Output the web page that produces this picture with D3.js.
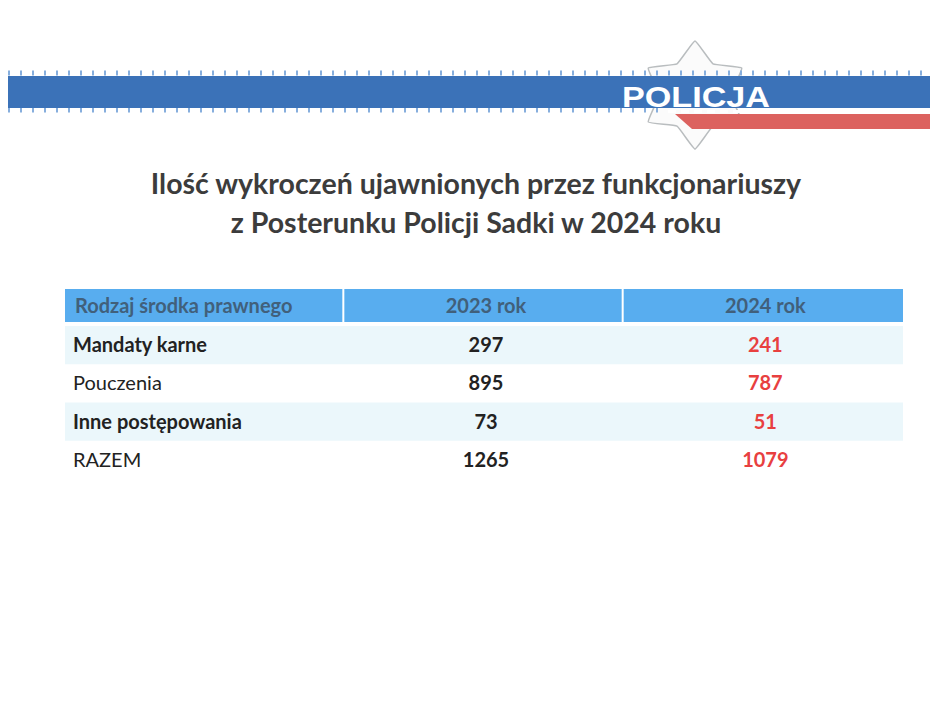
<!DOCTYPE html>
<html>
<head>
<meta charset="utf-8">
<script src="https://cdn.jsdelivr.net/npm/d3@7"></script>
<style>
    body { margin: 0; background: #fff; }
    svg { display: block; }
</style>
</head>
<body>
<svg id="slide" width="930" height="708"></svg>
<script>
//-------------------Données----------------------------------------

var titre = ["Ilość wykroczeń ujawnionych przez funkcjonariuszy", "z Posterunku Policji Sadki w 2024 roku"];
var entetes = ["Rodzaj środka prawnego", "2023 rok", "2024 rok"];
var categories = ["Mandaty karne", "Pouczenia", "Inne postępowania", "RAZEM"];
var valeurs2023 = [297, 895, 73, 1265];
var valeurs2024 = [241, 787, 51, 1079];

var svg = d3.select("#slide");
var police = "Lato, 'Open Sans', sans-serif";

//-------------------Bandeau POLICJA----------------------------------------

function etoile(cx, cy, rExt, rInt) {
    var points = [];
    for (var i = 0; i < 12; i++) {
        var angle = i * Math.PI / 6;
        var r = (i % 2 == 0) ? rExt : rInt;
        points.push([cx + Math.sin(angle) * r, cy - Math.cos(angle) * r]);
    }
    return points;
}

svg.append("path")
    .attr("d", d3.line().curve(d3.curveCardinalClosed.tension(0.7))(etoile(695, 95, 54, 36)))
    .attr("fill", "#fbfbfb")
    .attr("stroke", "#b9bdbf")
    .attr("stroke-width", 1.5);

// pointillés au-dessus et en dessous du bandeau
svg.append("line")
    .attr("x1", 8).attr("x2", 930).attr("y1", 73).attr("y2", 73)
    .attr("stroke", "#86aedd").attr("stroke-width", 5)
    .attr("stroke-dasharray", "2,10");
svg.append("line")
    .attr("x1", 8).attr("x2", 660).attr("y1", 110).attr("y2", 110)
    .attr("stroke", "#86aedd").attr("stroke-width", 5)
    .attr("stroke-dasharray", "2,10");

svg.append("rect")
    .attr("x", 8).attr("y", 76)
    .attr("width", 922).attr("height", 32)
    .attr("fill", "#3b72b8");

svg.append("path")
    .attr("d", "M675,114 L930,114 L930,129 L692,129 Z")
    .attr("fill", "#dc625f");

svg.append("line")
    .attr("x1", 668).attr("x2", 930).attr("y1", 111.5).attr("y2", 111.5)
    .attr("stroke", "#ffffff").attr("stroke-width", 3)
    .attr("stroke-dasharray", "8,5");

svg.append("text")
    .attr("x", 622).attr("y", 107)
    .attr("textLength", 148)
    .attr("lengthAdjust", "spacingAndGlyphs")
    .style("font-family", "'Liberation Sans', Arial, sans-serif")
    .style("font-weight", "bold")
    .style("font-size", "30px")
    .attr("fill", "#ffffff")
    .text("POLICJA");

//-------------------Titre----------------------------------------

svg.selectAll(".titre")
    .data(titre)
    .enter()
    .append("text")
    .attr("class", "titre")
    .attr("x", 476)
    .attr("y", function(d, i) { return 194 + i * 39; })
    .attr("text-anchor", "middle")
    .style("font-family", police)
    .style("font-weight", "bold")
    .style("font-size", "28.5px")
    .attr("fill", "#3c3c3c")
    .text(function(d) { return d; });

//-------------------Tableau----------------------------------------

var x = d3.scaleBand().domain(entetes).range([65, 903]);
var y = d3.scaleBand().domain(categories).range([326, 479]);

// lignes légèrement teintées
svg.selectAll(".fond")
    .data(categories.filter(function(d, i) { return i % 2 == 0; }))
    .enter()
    .append("rect")
    .attr("class", "fond")
    .attr("x", 65)
    .attr("y", function(d) { return y(d); })
    .attr("width", 838)
    .attr("height", y.bandwidth())
    .attr("fill", "#ebf7fb");

svg.selectAll(".entete")
    .data(entetes)
    .enter()
    .append("rect")
    .attr("class", "entete")
    .attr("x", function(d) { return x(d); })
    .attr("y", 289)
    .attr("width", function(d, i) { return x.bandwidth() - (i < 2 ? 2 : 0); })
    .attr("height", 33)
    .attr("fill", "#58adef");

svg.selectAll(".txtEntete")
    .data(entetes)
    .enter()
    .append("text")
    .attr("class", "txtEntete")
    .attr("x", function(d, i) { return i == 0 ? x(d) + 10 : x(d) + x.bandwidth() / 2 + 2; })
    .attr("y", 313)
    .attr("text-anchor", function(d, i) { return i == 0 ? "start" : "middle"; })
    .style("font-family", police)
    .style("font-weight", "bold")
    .style("font-size", "20px")
    .attr("fill", "#41607b")
    .text(function(d) { return d; });

function ajouterColonne(valeurs, colonne, couleur, classe) {
    svg.selectAll("." + classe)
        .data(valeurs)
        .enter()
        .append("text")
        .attr("class", classe)
        .attr("x", x(colonne) + x.bandwidth() / 2 + 2)
        .attr("y", function(d, i) { return y(categories[i]) + y.bandwidth() / 2 + 7; })
        .attr("text-anchor", "middle")
        .style("font-family", police)
        .style("font-weight", "bold")
        .style("font-size", "20px")
        .attr("fill", couleur)
        .text(function(d) { return d; });
}

svg.selectAll(".categorie")
    .data(categories)
    .enter()
    .append("text")
    .attr("class", "categorie")
    .attr("x", 73)
    .attr("y", function(d) { return y(d) + y.bandwidth() / 2 + 7; })
    .style("font-family", police)
    .style("font-weight", function(d, i) { return i == 0 || i == 2 ? "bold" : "normal"; })
    .style("font-size", "20px")
    .attr("fill", "#222222")
    .text(function(d) { return d; });

ajouterColonne(valeurs2023, entetes[1], "#222222", "v2023");
ajouterColonne(valeurs2024, entetes[2], "#e8403f", "v2024");
</script>
</body>
</html>
